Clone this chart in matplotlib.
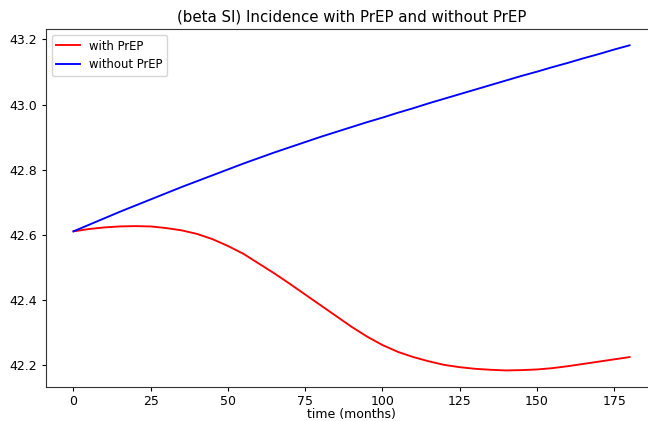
import matplotlib
matplotlib.use("Agg")
import matplotlib.pyplot as plt

# time axis (months) and incidence
months = [0, 5, 10, 15, 20, 25, 30, 35, 40, 45, 50, 55, 60, 65, 70, 75, 80, 85, 90,
          95, 100, 105, 110, 115, 120, 125, 130, 135, 140, 145, 150, 155, 160, 165, 170, 175, 180]
with_prep = [42.611, 42.618, 42.623, 42.626, 42.627, 42.626, 42.621, 42.614, 42.603, 42.587,
             42.566, 42.542, 42.512, 42.482, 42.450, 42.417, 42.384, 42.351, 42.318,
             42.288, 42.262, 42.241, 42.225, 42.212, 42.201, 42.194, 42.189, 42.186, 42.184,
             42.185, 42.187, 42.191, 42.197, 42.204, 42.211, 42.218, 42.225]
without_prep = [42.611, 42.631, 42.651, 42.671, 42.690, 42.709, 42.728, 42.747, 42.765, 42.783,
                42.801, 42.819, 42.836, 42.853, 42.869, 42.885, 42.901, 42.916, 42.931,
                42.946, 42.960, 42.975, 42.989, 43.004, 43.018, 43.032, 43.046, 43.060, 43.074,
                43.088, 43.101, 43.115, 43.128, 43.142, 43.155, 43.169, 43.182]

plt.rcParams['font.size'] = 9
plt.rcParams['xtick.major.size'] = 3.15
plt.rcParams['ytick.major.size'] = 3.15
plt.rcParams['xtick.major.pad'] = 2.8
plt.rcParams['ytick.major.pad'] = 3.0
plt.rcParams['axes.edgecolor'] = '#333333'

fig = plt.figure(figsize=(6.48, 4.21), dpi=100)
ax = fig.add_axes([0.0705, 0.0815, 0.944, 0.8495])

ax.plot(months, with_prep, color='red', lw=1.35, label='with PrEP')
ax.plot(months, without_prep, color='blue', lw=1.35, label='without PrEP')

ax.set_title('(beta SI) Incidence with PrEP and without PrEP', fontsize=10.8, pad=5.4)
ax.set_xlabel('time (months)', labelpad=0)
ax.legend(loc='upper left', fontsize=8.4)

plt.savefig('out.png', dpi=100)
plt.close(fig)
